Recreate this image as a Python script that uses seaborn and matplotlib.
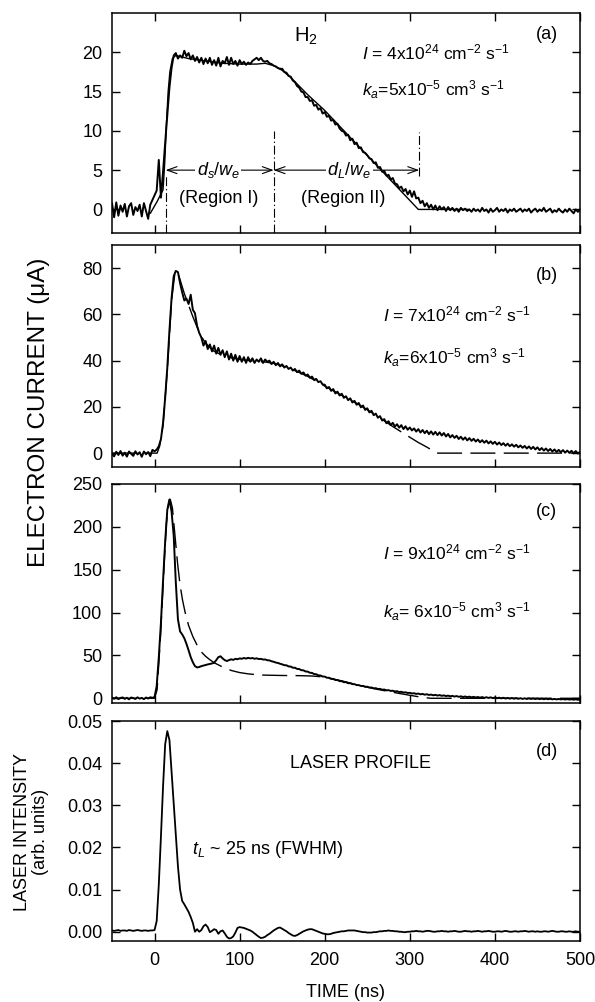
import numpy as np
import seaborn as sns
import matplotlib.pyplot as plt
from matplotlib.ticker import FormatStrFormatter

sns.set_style("ticks")
plt.rcParams['font.family'] = ['Liberation Sans', 'DejaVu Sans']
plt.rcParams['mathtext.fontset'] = 'custom'
plt.rcParams['mathtext.rm'] = 'Liberation Sans'
plt.rcParams['mathtext.it'] = 'Liberation Sans:italic'
plt.rcParams['mathtext.bf'] = 'Liberation Sans:bold'
for k in ['text.color', 'axes.edgecolor', 'xtick.color', 'ytick.color', 'axes.labelcolor']:
    plt.rcParams[k] = 'black'

# sampling grid of the recorded traces (ns), 2.5 ns steps
time_ns = np.arange(-50, 500.1, 2.5)

# (a) measured electron current (uA), rows of 20 samples = 50 ns
cur_a = [
    0.8, -1.0, 0.9, -0.8, 0.5, -0.3, 0.7, -0.9, 0.4, 0.8, -0.7, 0.3, -0.2, 0.6, -0.9, 0.8, -0.2, -1.2, 0.6, 1.2,
    1.8, 2.4, 6.3, 1.5, 4.8, 8.5, 12.0, 15.5, 18.0, 19.6, 19.9, 19.2, 19.6, 19.3, 20.2, 19.5, 19.9, 19.1, 19.6, 18.9,
    19.4, 18.7, 19.3, 18.5, 19.2, 18.6, 19.3, 18.4, 19.0, 18.3, 19.3, 18.2, 18.9, 18.6, 19.4, 18.4, 19.3, 18.5, 18.9, 18.3,
    19.0, 18.5, 18.8, 18.4, 18.7, 18.5, 18.9, 19.1, 19.3, 19.0, 19.3, 18.9, 18.8, 18.9, 18.6, 18.5, 18.3, 18.2, 18.0, 17.9,
    17.9, 17.5, 17.4, 17.0, 16.9, 16.4, 16.2, 15.7, 15.5, 15.0, 14.9, 14.3, 14.3, 13.8, 13.9, 13.2, 13.3, 12.7, 12.9, 12.2,
    12.4, 11.8, 11.9, 11.3, 11.4, 10.8, 10.9, 10.3, 10.0, 9.9, 9.4, 9.5, 8.8, 9.0, 8.3, 8.5, 7.8, 7.9, 7.3, 7.2,
    6.9, 6.5, 6.4, 5.9, 6.0, 5.3, 5.4, 4.8, 4.9, 4.3, 4.4, 3.8, 4.0, 3.3, 3.2, 2.7, 2.9, 2.3, 2.6, 1.9,
    2.4, 1.6, 2.3, 1.4, 1.5, 0.8, 1.1, 0.4, 0.8, 0.2, 0.6, 0.0, 0.5, -0.1, 0.4, 0.0, 0.3, -0.2, 0.3, -0.1,
    0.2, -0.2, 0.1, -0.3, 0.2, -0.1, 0.1, -0.2, 0.0, -0.3, 0.1, -0.2, 0.0, -0.3, 0.2, -0.2, 0.0, -0.4, 0.1, -0.3,
    -0.1, 0.2, -0.3, 0.0, -0.2, 0.1, -0.4, 0.0, -0.2, 0.1, -0.3, -0.1, 0.1, -0.3, 0.0, -0.2, 0.1, -0.4, -0.1, 0.1,
    -0.3, 0.0, -0.2, 0.2, -0.3, -0.1, 0.1, -0.4, -0.1, -0.3, 0.1, -0.2, -0.4, 0.0, -0.3, 0.1, -0.2, -0.5, 0.0, -0.3,
    -0.1,
]
fit_a_t = [-5, 3, 10, 12, 14, 16, 18, 21, 25, 40, 60, 80, 100, 120, 130, 140, 150, 160, 170, 180, 190, 200, 310, 370]
fit_a_i = [-0.5, 1.0, 2.5, 6.0, 11.0, 15.0, 17.5, 19.2, 19.6, 19.2, 18.9, 18.6, 18.5, 18.5, 18.6, 18.3, 17.7, 16.8,
           15.7, 14.6, 13.6, 12.6, 0.0, 0.0]

# (b)
cur_b = [
    -0.2, -1.4, 0.6, -0.8, 0.9, -1.1, 0.2, -1.5, 0.7, -0.3, -1.2, 0.8, -0.6, 0.4, -1.6, 0.7, -0.5, 0.5, -1.3, 1.4,
    0.8, 1.5, 3.0, 6.0, 13.0, 24.0, 37.0, 53.0, 67.0, 76.5, 78.8, 78.3, 73.5, 69.5, 66.0, 66.8, 64.5, 68.5, 62.0, 60.5,
    55.0, 52.0, 50.0, 46.5, 48.5, 45.0, 47.0, 44.0, 46.5, 43.0, 45.5, 42.5, 44.5, 41.5, 44.0, 40.5, 43.0, 40.0, 42.5, 39.5,
    42.0, 39.5, 41.5, 39.0, 41.5, 39.5, 41.0, 39.0, 40.5, 39.5, 41.0, 39.0, 40.5, 39.5, 40.0, 38.5, 39.5, 38.0, 39.0, 37.5,
    38.4, 37.0, 37.7, 36.4, 37.0, 35.7, 36.4, 35.0, 35.7, 34.3, 34.9, 33.5, 34.0, 32.6, 33.1, 31.7, 32.1, 30.7, 31.1, 29.7,
    29.6, 28.0, 28.6, 26.9, 27.7, 25.8, 26.6, 24.9, 25.7, 23.9, 24.6, 22.9, 23.7, 21.9, 22.6, 20.9, 21.7, 19.8, 20.6, 18.7,
    19.4, 17.6, 18.3, 16.4, 17.1, 15.3, 16.0, 14.1, 14.7, 12.9, 13.8, 12.1, 13.1, 11.5, 12.5, 11.0, 12.1, 10.4, 11.6, 10.1,
    11.1, 9.8, 10.7, 9.3, 10.4, 8.9, 10.0, 8.6, 9.7, 8.2, 9.4, 8.0, 9.2, 7.8, 9.0, 7.6, 8.7, 7.2, 8.3, 6.8,
    7.8, 6.6, 7.5, 6.1, 7.1, 5.8, 6.8, 5.5, 6.5, 5.3, 6.2, 5.0, 5.9, 4.7, 5.6, 4.5, 5.4, 4.2, 5.1, 4.0,
    4.9, 3.7, 4.6, 3.5, 4.3, 3.2, 4.1, 3.0, 3.8, 2.8, 3.6, 2.5, 3.3, 2.3, 3.1, 2.0, 2.9, 1.8, 2.7, 1.6,
    2.5, 1.3, 2.2, 1.1, 2.0, 0.9, 1.8, 0.7, 1.6, 0.5, 1.4, 0.4, 1.3, 0.2, 1.1, 0.1, 1.0, -0.1, 0.9, -0.2,
    0.6,
]
fit_b_t = [-50, 3, 6, 10, 15, 20, 24, 27, 30, 35, 40, 45, 50, 55, 60, 70, 80, 90, 100, 115, 130, 140, 150, 160,
           180, 200, 220, 240, 260, 273, 280, 295, 310, 320, 332, 500]
fit_b_i = [0, 0, 3, 12, 36, 66, 78, 78.5, 75, 69, 64, 59, 54.5, 50.5, 47.5, 44, 42.3, 41.2, 40.5, 39.8, 39.4, 38.8,
           37.8, 36.5, 33.2, 29.0, 25.0, 21.0, 16.5, 13.2, 11.5, 8.0, 4.6, 2.6, 0, 0]

# (c)
cur_c = [
    0.8, -0.5, 1.2, -0.9, 0.4, 1.0, -0.7, 0.6, -1.2, 0.9, 0.2, -0.8, 1.1, -0.4, 0.5, -1.0, 0.9, -0.3, 1.2, 0.5,
    1.5, 14, 48, 88, 137, 183, 220, 232, 218, 190, 135, 92, 78, 74.5, 70, 63.5, 56, 48, 42, 37.5,
    36.0, 36.5, 37.5, 38.2, 38.8, 39.5, 40.0, 40.6, 41.5, 44.5, 48.0, 49.0, 46.5, 44.5, 43.5, 44.5, 45.5, 44.8, 46.0, 45.6,
    46.5, 46.1, 47.0, 46.3, 47.2, 46.5, 47.0, 46.1, 46.6, 45.8, 46.0, 45.2, 45.3, 44.4, 44.2, 43.2, 42.6, 41.7, 41.2, 40.3,
    39.6, 38.6, 38.5, 37.2, 37.0, 35.7, 35.6, 34.3, 34.1, 32.8, 32.6, 31.3, 31.1, 29.8, 29.6, 28.3, 28.0, 26.8, 26.6, 25.4,
    25.3, 24.0, 23.9, 22.6, 22.6, 21.3, 21.3, 20.0, 20.0, 18.8, 18.8, 17.6, 17.6, 16.5, 16.5, 15.4, 15.4, 14.4, 14.4, 13.4,
    13.5, 12.5, 12.6, 11.6, 11.8, 10.8, 11.0, 10.0, 10.2, 9.3, 9.5, 8.6, 8.8, 8.0, 8.2, 7.3, 7.6, 6.7, 7.0, 6.2,
    6.4, 5.6, 5.9, 5.1, 5.5, 4.6, 5.1, 4.2, 4.7, 3.9, 4.3, 3.5, 4.0, 3.2, 3.7, 2.9, 3.4, 2.6, 3.1, 2.3,
    2.8, 2.0, 2.6, 1.7, 2.3, 1.5, 2.1, 1.3, 1.9, 1.1, 1.7, 0.9, 1.5, 0.7, 1.4, 0.5, 1.2, 0.4, 1.1, 0.2,
    0.9, 0.1, 0.7, -0.1, 0.6, -0.3, 0.4, -0.4, 0.3, -0.5, 0.2, -0.6, 0.1, -0.7, 0.0, -0.8, -0.1, -0.8, -0.2, -0.9,
    -0.3, -1.0, -0.4, -1.1, -0.5, -1.1, -0.6, -1.2, -0.7, -1.3, -0.8, -1.3, -0.9, -1.4, -1.0, -1.5, -1.1, -1.6, -1.2, -1.7,
    -1.5,
]
fit_c_t = [-50, 0, 3, 7, 11, 14, 17, 18.5, 21, 24, 27, 30, 33, 36, 40, 45, 50, 55, 60, 65, 70, 80, 90, 100, 110,
           120, 130, 150, 170, 185, 200, 220, 240, 260, 280, 300, 315, 325, 500]
fit_c_i = [0, 0, 10, 72, 152, 205, 230, 232, 222, 190, 158, 132, 114, 100, 85, 72, 62, 54, 49, 45, 41.5, 36.5,
           32.5, 30, 28.5, 27.5, 27, 26.6, 26.4, 26.0, 24.8, 20.3, 15.3, 10.8, 7.0, 3.5, 1.0, 0, 0]

# (d) laser profile (arb. units)
laser = [
    0.0003, 0.0002, 0.0003, 0.0004, 0.0002, 0.0003, 0.0003, 0.0002, 0.0004, 0.0003,
    0.0002, 0.0003, 0.0004, 0.0003, 0.0002, 0.0003, 0.0003, 0.0002, 0.0003, 0.0003,
    0.0004, 0.0025, 0.0112, 0.0225, 0.0345, 0.0445, 0.0476, 0.0455, 0.0380, 0.0305,
    0.0228, 0.0155, 0.0100, 0.0073, 0.0065, 0.0056, 0.0047, 0.0035, 0.0021, 0.0000,
    0.0006, 0.0000, 0.0004, 0.0013, 0.0017, 0.0011, -0.0001, 0.0002, 0.0006, 0.0004,
    -0.0005, 0.0001, 0.0003, -0.0004, -0.0012, -0.0016, -0.0015, -0.0011, -0.0002, 0.0009,
    0.0011, 0.0010, 0.0009, 0.0007, 0.0005, 0.0003, 0.0000, -0.0004, -0.0008, -0.0012,
    -0.0015, -0.0014, -0.0012, -0.0008, -0.0005, -0.0001, 0.0003, 0.0006, 0.0009, 0.0010,
    0.0007, 0.0004, 0.0001, -0.0003, -0.0006, -0.0009, -0.0010, -0.0008, -0.0005, -0.0002,
    0.0001, 0.0003, 0.0005, 0.0006, 0.0006, 0.0004, 0.0002, 0.0000, -0.0002, -0.0004,
    -0.0005, -0.0006, -0.0006, -0.0005, -0.0003, -0.0002, -0.0001, 0.0000, 0.0001, 0.0001,
    0.0002, 0.0003, 0.0003, 0.0003, 0.0003, 0.0002, 0.0001, 0.0000, -0.0001, -0.0001,
    -0.0002, -0.0002, -0.0002, -0.0001, -0.0001, 0.0000, 0.0001, 0.0001, 0.0002, 0.0002,
    0.0003, 0.0002, 0.0002, 0.0001, 0.0001, 0.0000, 0.0000, -0.0001, -0.0001, 0.0000,
    0.0000, 0.0001, 0.0001, 0.0002, 0.0001, 0.0001, 0.0000, 0.0001, 0.0002, 0.0002,
    0.0001, 0.0000, 0.0000, 0.0001, 0.0001, 0.0002, 0.0001, 0.0001, 0.0000, 0.0001,
    0.0001, 0.0002, 0.0001, 0.0000, 0.0000, 0.0001, 0.0002, 0.0001, 0.0001, 0.0000,
    0.0001, 0.0001, 0.0002, 0.0001, 0.0000, 0.0001, 0.0001, 0.0002, 0.0001, 0.0000,
    0.0000, 0.0001, 0.0001, 0.0000, 0.0001, 0.0002, 0.0001, 0.0000, 0.0000, 0.0001,
    0.0001, 0.0000, 0.0001, 0.0001, 0.0002, 0.0001, 0.0000, 0.0001, 0.0001, 0.0000,
    0.0001, 0.0000, 0.0000, 0.0001, 0.0001, 0.0000, 0.0001, 0.0002, 0.0001, 0.0000,
    0.0000, 0.0001, 0.0001, 0.0000, 0.0000, 0.0001, 0.0000, 0.0000, 0.0001, 0.0000,
    0.0000,
]

# region boundaries in panel (a)
region_t = [13, 140, 311]
region_lo = [-3, -3, 4.2]
region_hi = [4.5, 10, 9.8]

y_ticks = {
    "a": [0, 5, 10, 15, 20],
    "b": [0, 20, 40, 60, 80],
    "c": [0, 50, 100, 150, 200, 250],
    "d": [0.0, 0.01, 0.02, 0.03, 0.04, 0.05],
}
y_lims = {"a": (-3, 25), "b": (-6, 90), "c": (-5.5, 250), "d": (-0.0022, 0.05)}
x_ticks = [0, 100, 200, 300, 400, 500]

fig = plt.figure(figsize=(5.95, 10.02), dpi=100)
left, width = 112 / 595, 468 / 595
rows = {"a": (13, 233), "b": (245, 467), "c": (484, 703), "d": (721, 941)}
axes = {}
for key, (top, bot) in rows.items():
    ax = fig.add_axes([left, 1 - bot / 1002, width, (bot - top) / 1002])
    axes[key] = ax

data_kw = dict(color="black", lw=1.4, estimator=None, errorbar=None, zorder=4)
fit_kw = dict(color="black", lw=1.0, estimator=None, errorbar=None, zorder=3.5)
dash = (0, (18, 6))

sns.lineplot(x=time_ns, y=cur_a, ax=axes["a"], **data_kw)
sns.lineplot(x=fit_a_t, y=fit_a_i, ax=axes["a"], **fit_kw)
sns.lineplot(x=time_ns, y=cur_b, ax=axes["b"], **data_kw)
sns.lineplot(x=fit_b_t, y=fit_b_i, ax=axes["b"], ls=dash, **fit_kw)
sns.lineplot(x=time_ns, y=cur_c, ax=axes["c"], **data_kw)
sns.lineplot(x=fit_c_t, y=fit_c_i, ax=axes["c"], ls=dash, **fit_kw)
sns.lineplot(x=time_ns, y=laser, ax=axes["d"], color="black", lw=1.3, estimator=None, errorbar=None)

for key, ax in axes.items():
    ax.set_xlim(-50, 500)
    ax.set_ylim(*y_lims[key])
    ax.set_xticks(x_ticks)
    ax.set_yticks(y_ticks[key])
    ax.set_xlabel("")
    ax.set_ylabel("")
    ax.tick_params(direction="in", top=True, right=True, length=6, width=1,
                   labelsize=13, pad=7, colors="black")
    ax.tick_params(axis="x", pad=8)
    for s in ax.spines.values():
        s.set_linewidth(1.1)
        s.set_color("black")
    if key != "d":
        ax.tick_params(labelbottom=False)
axes["d"].yaxis.set_major_formatter(FormatStrFormatter("%.2f"))

# panel (a) annotations
ax = axes["a"]
ax.vlines(region_t, region_lo, region_hi, color="black", lw=0.8,
          linestyles=[(0, (8, 2.5, 1.2, 2.5))], zorder=3)
arrow = dict(arrowstyle="<->,head_length=0.7,head_width=0.25", lw=0.8,
             color="black", shrinkA=0, shrinkB=0)
ax.annotate("", xy=(region_t[1], 5), xytext=(region_t[0], 5), arrowprops=arrow, zorder=2.5)
ax.annotate("", xy=(region_t[2], 5), xytext=(region_t[1], 5), arrowprops=arrow, zorder=2.5)
box = dict(fc="white", ec="none", pad=1)
ax.text(75, 5, r"$d_s/w_e$", ha="center", va="center", fontsize=13, bbox=box, zorder=3)
ax.text(229, 5, r"$d_L/w_e$", ha="center", va="center", fontsize=13, bbox=box, zorder=3)
ax.text(75, 1.4, "(Region I)", ha="center", va="center", fontsize=13)
ax.text(222, 1.4, "(Region II)", ha="center", va="center", fontsize=13)
ax.text(178, 22, r"H$_2$", ha="center", va="center", fontsize=14.5)
ax.text(244, 20, r"$I$ = 4x10$^{24}$ cm$^{-2}$ s$^{-1}$", va="center", fontsize=12.5)
ax.text(244, 15.3, r"$k_a$=5x10$^{-5}$ cm$^3$ s$^{-1}$", va="center", fontsize=12.5)
ax.text(461, 22.3, "(a)", ha="center", va="center", fontsize=13)

ax = axes["b"]
ax.text(269, 60, r"$I$ = 7x10$^{24}$ cm$^{-2}$ s$^{-1}$", va="center", fontsize=12.5)
ax.text(269, 41.2, r"$k_a$=6x10$^{-5}$ cm$^3$ s$^{-1}$", va="center", fontsize=12.5)
ax.text(461, 77, "(b)", ha="center", va="center", fontsize=13)

ax = axes["c"]
ax.text(269, 170, r"$I$ = 9x10$^{24}$ cm$^{-2}$ s$^{-1}$", va="center", fontsize=12.5)
ax.text(269, 100.5, r"$k_a$= 6x10$^{-5}$ cm$^3$ s$^{-1}$", va="center", fontsize=12.5)
ax.text(461, 218, "(c)", ha="center", va="center", fontsize=13)

ax = axes["d"]
ax.text(242, 0.040, "LASER PROFILE", ha="center", va="center", fontsize=13)
ax.text(44, 0.0195, r"$t_L$ ~ 25 ns (FWHM)", va="center", fontsize=13)
ax.text(461, 0.0427, "(d)", ha="center", va="center", fontsize=13)

fig.text(0.065, 0.589, "ELECTRON CURRENT (\u03bcA)", rotation=90, ha="center",
         va="center", fontsize=17.5)
fig.text(0.053, 0.170, "LASER INTENSITY\n(arb. units)", rotation=90, ha="center",
         va="center", fontsize=13, linespacing=1.1, multialignment="center")
fig.text(0.5815, 0.009, "TIME (ns)", ha="center", va="center", fontsize=13)

fig.savefig("out.png", dpi=100)
